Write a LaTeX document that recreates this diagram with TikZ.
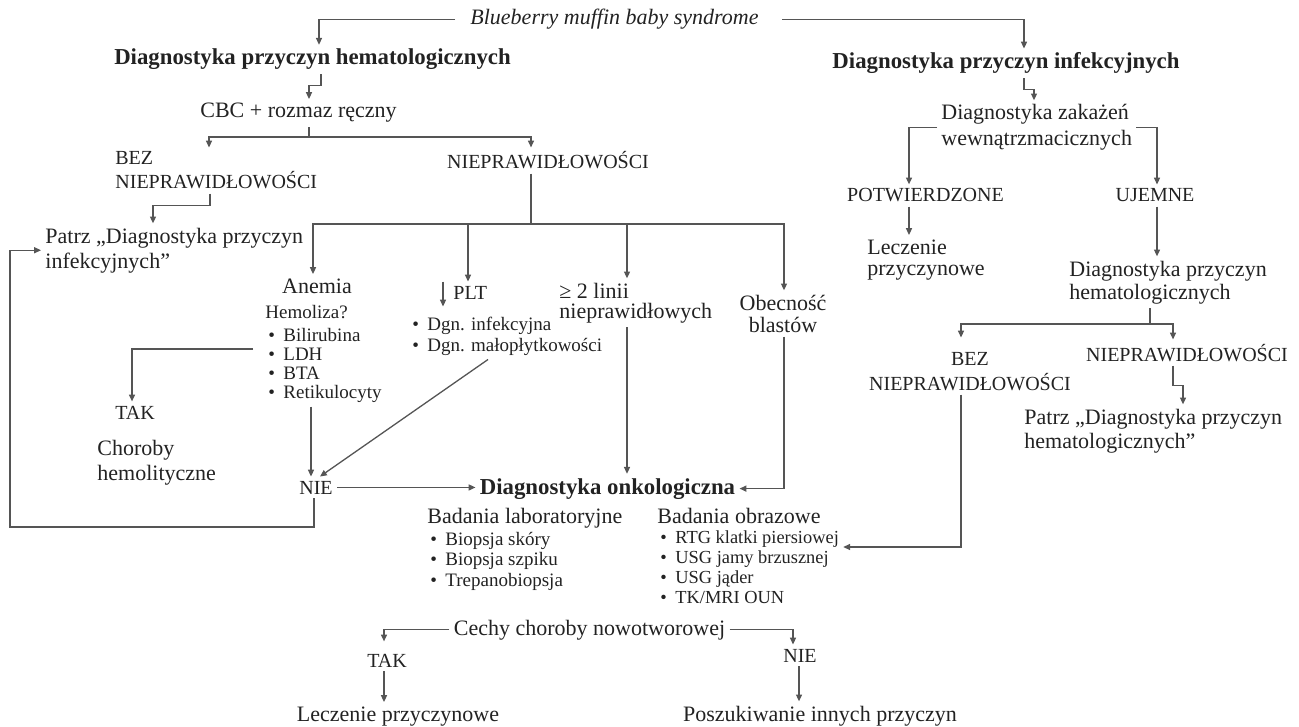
\documentclass[tikz,border=0pt]{standalone}
\usepackage{fontspec}
\setmainfont{Liberation Serif}
\usetikzlibrary{arrows.meta,calc}
\definecolor{txtc}{HTML}{222222}
\definecolor{linec}{HTML}{555555}
\newcommand\bul{\makebox[7.5pt][l]{\textbullet}}
\newcommand\fs[2]{\fontsize{#1}{#2}\selectfont\lineskiplimit=-20pt}
\tikzset{
  txt/.style={inner sep=2pt, text=txtc, font=\fs{11}{12}},
  caps/.style={txt, font=\fs{10}{12}},
  ttl/.style={txt, font=\fs{11.4}{13}\bfseries},
  lst/.style={txt, align=left, font=\fs{9.5}{9.5}},
  conn/.style={draw=linec, line width=0.65pt},
  arr/.style={conn, -{Triangle[length=3.4pt,width=3pt]}}
}
\begin{document}
\begin{tikzpicture}[x=0.5pt,y=-0.5pt]
\useasboundingbox (0,0) rectangle (1299,727);
% ---- nodes (multi-line nodes: base = last line) ----
\node[txt, anchor=base, font=\fs{11}{12}\itshape] (blue) at (614.5,25) {Blueberry muffin baby syndrome};
\node[ttl, anchor=base] (hemat) at (312.5,65) {Diagnostyka przyczyn hematologicznych};
\node[ttl, anchor=base] (infek) at (1006,69) {Diagnostyka przyczyn infekcyjnych};
\node[txt, anchor=base] (cbc) at (298.5,118) {CBC + rozmaz ręczny};
\node[caps, anchor=base west, align=left] (bez1) at (111,189) {BEZ\\NIEPRAWIDŁOWOŚCI};
\node[caps, anchor=base] (niep1) at (548,169) {NIEPRAWIDŁOWOŚCI};
\node[txt, anchor=base west, align=left, font=\fs{11}{12.5}] (patrz1) at (41,268) {Patrz „Diagnostyka przyczyn\\infekcyjnych”};
\node[txt, anchor=base] (anemia) at (317,293) {Anemia};
\node[lst, anchor=base west] (hemol) at (261,318) {Hemoliza?};
\node[lst, anchor=base west] (hlist) at (264,398) {\bul Bilirubina\\\bul LDH\\\bul BTA\\\bul Retikulocyty};
\node[caps, anchor=base west] (plt) at (449,299) {PLT};
\node[lst, anchor=base west, font=\fs{9.5}{10.5}] (pltlist) at (408,351) {\bul Dgn. infekcyjna\\\bul Dgn. małopłytkowości};
\node[txt, anchor=base west, align=left, font=\fs{11}{10}] (ge2) at (555,318) {≥ 2 linii\\nieprawidłowych};
\node[txt, anchor=base, align=center, font=\fs{11}{11}] (obec) at (783,332) {Obecność\\blastów};
\node[caps, anchor=base] (tak1) at (135,419) {TAK};
\node[txt, anchor=base west, align=left, font=\fs{11}{12.5}] (chor) at (93,480) {Choroby\\hemolityczne};
\node[caps, anchor=base] (nie1) at (316,494) {NIE};
\node[ttl, anchor=base] (onko) at (607.5,494) {Diagnostyka onkologiczna};
\node[txt, anchor=base west] (badlab) at (423,523) {Badania laboratoryjne};
\node[lst, anchor=base west, font=\fs{9.5}{10.25}] (lablist) at (426,586) {\bul Biopsja skóry\\\bul Biopsja szpiku\\\bul Trepanobiopsja};
\node[txt, anchor=base west] (badobr) at (653,523) {Badania obrazowe};
\node[lst, anchor=base west, font=\fs{9.2}{9.85}] (obrlist) at (656,603) {\bul RTG klatki piersiowej\\\bul USG jamy brzusznej\\\bul USG jąder\\\bul TK/MRI OUN};
\node[txt, anchor=base] (cechy) at (589.5,635) {Cechy choroby nowotworowej};
\node[caps, anchor=base] (tak2) at (387,667) {TAK};
\node[txt, anchor=base] (lecz2) at (398,721) {Leczenie przyczynowe};
\node[caps, anchor=base] (nie2) at (800,662) {NIE};
\node[txt, anchor=base] (posz) at (820,721) {Poszukiwanie innych przyczyn};
\node[txt, anchor=base west, align=left, font=\fs{11}{13}] (zak) at (937,146) {Diagnostyka zakażeń\\wewnątrzmacicznych};
\node[caps, anchor=base] (potw) at (925.5,202) {POTWIERDZONE};
\node[caps, anchor=base] (ujem) at (1155,202) {UJEMNE};
\node[txt, anchor=base west, align=left, font=\fs{11}{10.5}] (lecz1) at (863,275) {Leczenie\\przyczynowe};
\node[txt, anchor=base west, align=left, font=\fs{11}{11.5}] (dph) at (1065,299) {Diagnostyka przyczyn\\hematologicznych};
\node[caps, anchor=base, align=center, font=\fs{10}{12.5}] (bez2) at (970,390) {BEZ\\NIEPRAWIDŁOWOŚCI};
\node[caps, anchor=base] (niep2) at (1187,361) {NIEPRAWIDŁOWOŚCI};
\node[txt, anchor=base west, align=left, font=\fs{11}{12}] (patrz2) at (1020,448) {Patrz „Diagnostyka przyczyn\\hematologicznych”};
% ---- junctions ----
\coordinate (cbcj) at (309,137);
\coordinate (nj) at (531,224);
\coordinate (tj) at (253,349);
\coordinate (dj) at (1150,324);
\coordinate (loopc) at (10,527);
% ---- connectors ----
\draw[arr] (blue.west -| 455,0) -| (hemat.north -| 319,0);
\draw[arr] (blue.east -| 782,0) -| (infek.north -| 1024,0);
\draw[arr] (hemat.south -| 321,0) -- ++(0,11) -| (cbc.north -| 309,0);
\draw[conn] (cbc.south -| 309,0) -- (cbcj);
\draw[arr] (cbcj) -| (bez1.north -| 209,0);
\draw[arr] (cbcj) -| (niep1.north -| 531,0);
\draw[arr] (bez1.south -| 210,0) -- ++(0,12) -| (patrz1.north -| 153,0);
\draw[conn] (niep1.south -| 531,0) -- (nj);
\draw[arr] (nj) -| (anemia.north -| 313,0);
\draw[arr] (nj) -| (plt.north -| 468,0);
\draw[arr] (nj) -| (ge2.north -| 627,0);
\draw[arr] (nj) -| (obec.north -| 784,0);
\draw[arr] ([xshift=-3pt]plt.north west) -- ++(0,-12.5pt);
\draw[arr] (tj) -| (tak1.north -| 132,0);
\draw[arr] (hlist.south -| 311,0) -- (nie1.north -| 311,0);
\draw[arr] (pltlist.south -| 488,0) -- (nie1.north -| 320,0);
\draw[arr] (ge2.south -| 627,0) -- (onko.north -| 627,0);
\draw[arr] (obec.south -| 784,0) |- (onko.east);
\draw[arr] (nie1.east) -- (nie1.east -| onko.west);
\draw[arr] (nie1.south -| 314,0) |- (loopc) |- (patrz1.west);
\draw[arr] (infek.south -| 1024,0) -- ++(0,11) -| (zak.north -| 1034,0);
\draw[arr] (zak.west) -| (potw.north -| 909,0);
\draw[arr] (zak.east) -| (ujem.north -| 1157,0);
\draw[arr] (potw.south -| 909,0) -- (lecz1.north -| 909,0);
\draw[arr] (ujem.south -| 1157,0) -- (dph.north -| 1157,0);
\draw[conn] (dph.south -| 1150,0) -- (dj);
\draw[arr] (dj) -| ($(bez2.north -| 961,0)+(0,-10)$);
\draw[arr] (dj) -| (niep2.north -| 1173,0);
\draw[arr] (niep2.south -| 1173,0) -- ++(0,20) -| (patrz2.north -| 1183,0);
\draw[arr] (bez2.south -| 961,0) |- (845,547 -| obrlist.east);
\draw[arr] (cechy.west) -| ($(tak2.north -| 384,0)+(0,-8)$);
\draw[arr] (cechy.east) -| (nie2.north -| 793,0);
\draw[arr] (tak2.south -| 384,0) -- (lecz2.north -| 384,0);
\draw[arr] (nie2.south -| 799,0) -- (posz.north -| 799,0);
\end{tikzpicture}
\end{document}
